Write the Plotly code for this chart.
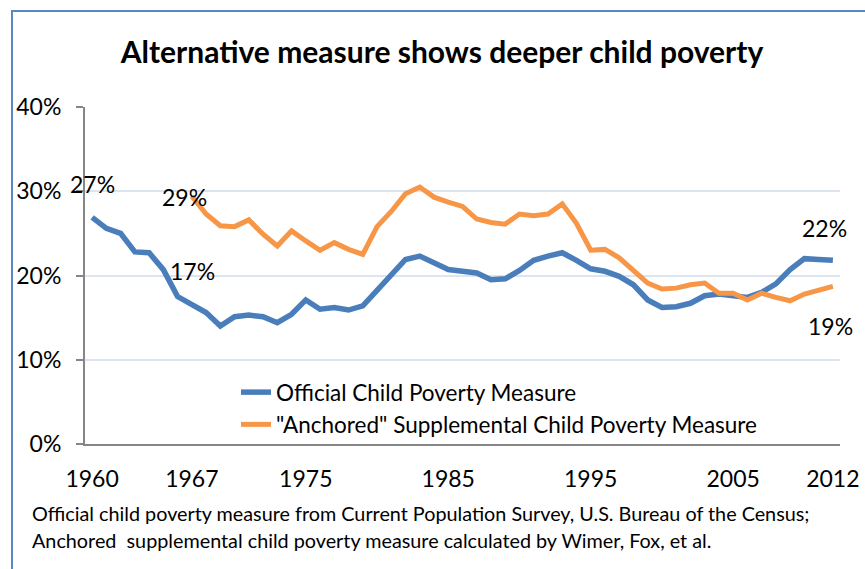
import plotly.graph_objects as go

# ---- data (percent of children in poverty) ----
years = list(range(1960, 2013))

official = [
    26.9, 25.6, 25.0, 22.8, 22.7, 20.7, 17.5, 16.6, 15.6, 14.0,
    15.1, 15.3, 15.1, 14.4, 15.4, 17.1, 16.0, 16.2, 15.9, 16.4,
    18.3, 20.0, 21.9, 22.3, 21.5, 20.7, 20.5, 20.3, 19.5, 19.6,
    20.6, 21.8, 22.3, 22.7, 21.8, 20.8, 20.5, 19.9, 18.9, 17.1,
    16.2, 16.3, 16.7, 17.6, 17.8, 17.6, 17.4, 18.0, 19.0, 20.7,
    22.0, 21.9, 21.8,
]

anchored_years = list(range(1967, 2013))
anchored = [
    29.4, 27.3, 25.9, 25.8, 26.6, 24.9, 23.5, 25.3, 24.1, 23.0,
    23.9, 23.1, 22.5, 25.8, 27.6, 29.7, 30.5, 29.3, 28.7, 28.2,
    26.7, 26.3, 26.1, 27.3, 27.1, 27.3, 28.5, 26.2, 23.0, 23.1,
    22.1, 20.5, 19.1, 18.4, 18.5, 18.9, 19.1, 17.9, 17.9, 17.1,
    17.9, 17.4, 17.0, 17.8, 18.2, 18.7,
]

tick_years = [1960, 1967, 1975, 1985, 1995, 2005, 2012]

names = ["Official Child Poverty Measure",
         "\"Anchored\" Supplemental Child Poverty Measure"]

title = "Alternative measure shows deeper child poverty"
source_lines = [
    "Official child poverty measure from Current Population Survey, U.S. Bureau of the Census;",
    "Anchored\u00a0 supplemental child poverty measure calculated by Wimer, Fox, et al.",
]

BLUE = "#4A7EBB"
ORANGE = "#F79646"
AXIS = "#868686"
GRID = "#DCE4F0"
FONT = "Lato"

W, H = 865, 569
L, R, T, B = 85, 25, 107, 125
pw, ph = W - L - R, H - T - B


def px_x(p):
    return (p - L) / pw


def px_y(p):
    return (H - B - p) / ph


fig = go.Figure()
fig.add_trace(go.Scatter(x=years, y=official, mode="lines", name=names[0],
                         line=dict(color=BLUE, width=5.5)))
fig.add_trace(go.Scatter(x=anchored_years, y=anchored, mode="lines", name=names[1],
                         line=dict(color=ORANGE, width=5)))


def pct(v):
    return f"{round(v)}%"


# value call-outs next to the lines
callouts = [
    (years[0], official[0], 0, 33),
    (anchored_years[0], anchored[0], -7, -1),
    (years[7], official[7], 1, 33),
    (years[-1], official[-1], -8, 32),
    (anchored_years[-1], anchored[-1], -2, -40),
]
for x, y, dx, dy in callouts:
    fig.add_annotation(x=x, y=y, text=pct(y), showarrow=False,
                       xshift=dx, yshift=dy,
                       font=dict(family=FONT, size=23, color="black"))

for i, line in enumerate(source_lines):
    fig.add_annotation(xref="paper", yref="paper", x=px_x(30), y=px_y(513 + i * 27),
                       xanchor="left", yanchor="middle", showarrow=False,
                       text=line, font=dict(family=FONT, size=19.8, color="black"))

# chart frame
fig.add_shape(type="rect", xref="paper", yref="paper",
              x0=px_x(12), x1=px_x(900), y0=px_y(600), y1=px_y(11),
              line=dict(color="#5B86C3", width=2))

fig.update_layout(
    width=W, height=H,
    margin=dict(l=L, r=R, t=T, b=B, autoexpand=False),
    paper_bgcolor="white", plot_bgcolor="white",
    font=dict(family=FONT, size=23, color="black"),
    title=dict(text=f"<b>{title}</b>", xref="container", x=442 / W,
               y=1 - 52 / H, xanchor="center", yanchor="middle",
               font=dict(family=FONT, size=30, color="black")),
    legend=dict(x=px_x(236), y=px_y(371), xanchor="left", yanchor="top",
                bgcolor="rgba(0,0,0,0)", font=dict(family=FONT, size=22.5),
                tracegroupgap=0),
    showlegend=True,
)
fig.update_xaxes(range=[1959.5, 2012.5], tickvals=tick_years, ticks="",
                 showgrid=False, showline=True, linecolor=AXIS, linewidth=2,
                 zeroline=False, ticklabelstandoff=13, automargin=False,
                 tickfont=dict(family=FONT, size=23))
fig.update_yaxes(range=[0, 40], dtick=10, ticksuffix="%", ticks="outside",
                 ticklen=7, tickcolor=AXIS, tickwidth=1.5,
                 showline=True, linecolor=AXIS, linewidth=2,
                 showgrid=True, gridcolor=GRID, gridwidth=1.5,
                 zeroline=False, ticklabelstandoff=10, automargin=False,
                 tickfont=dict(family=FONT, size=23))

# drop the page's default body margin so the figure sits at the window corner
fig.write_html("out.html", config={"displayModeBar": False},
               post_script="document.body.style.margin='0';")
